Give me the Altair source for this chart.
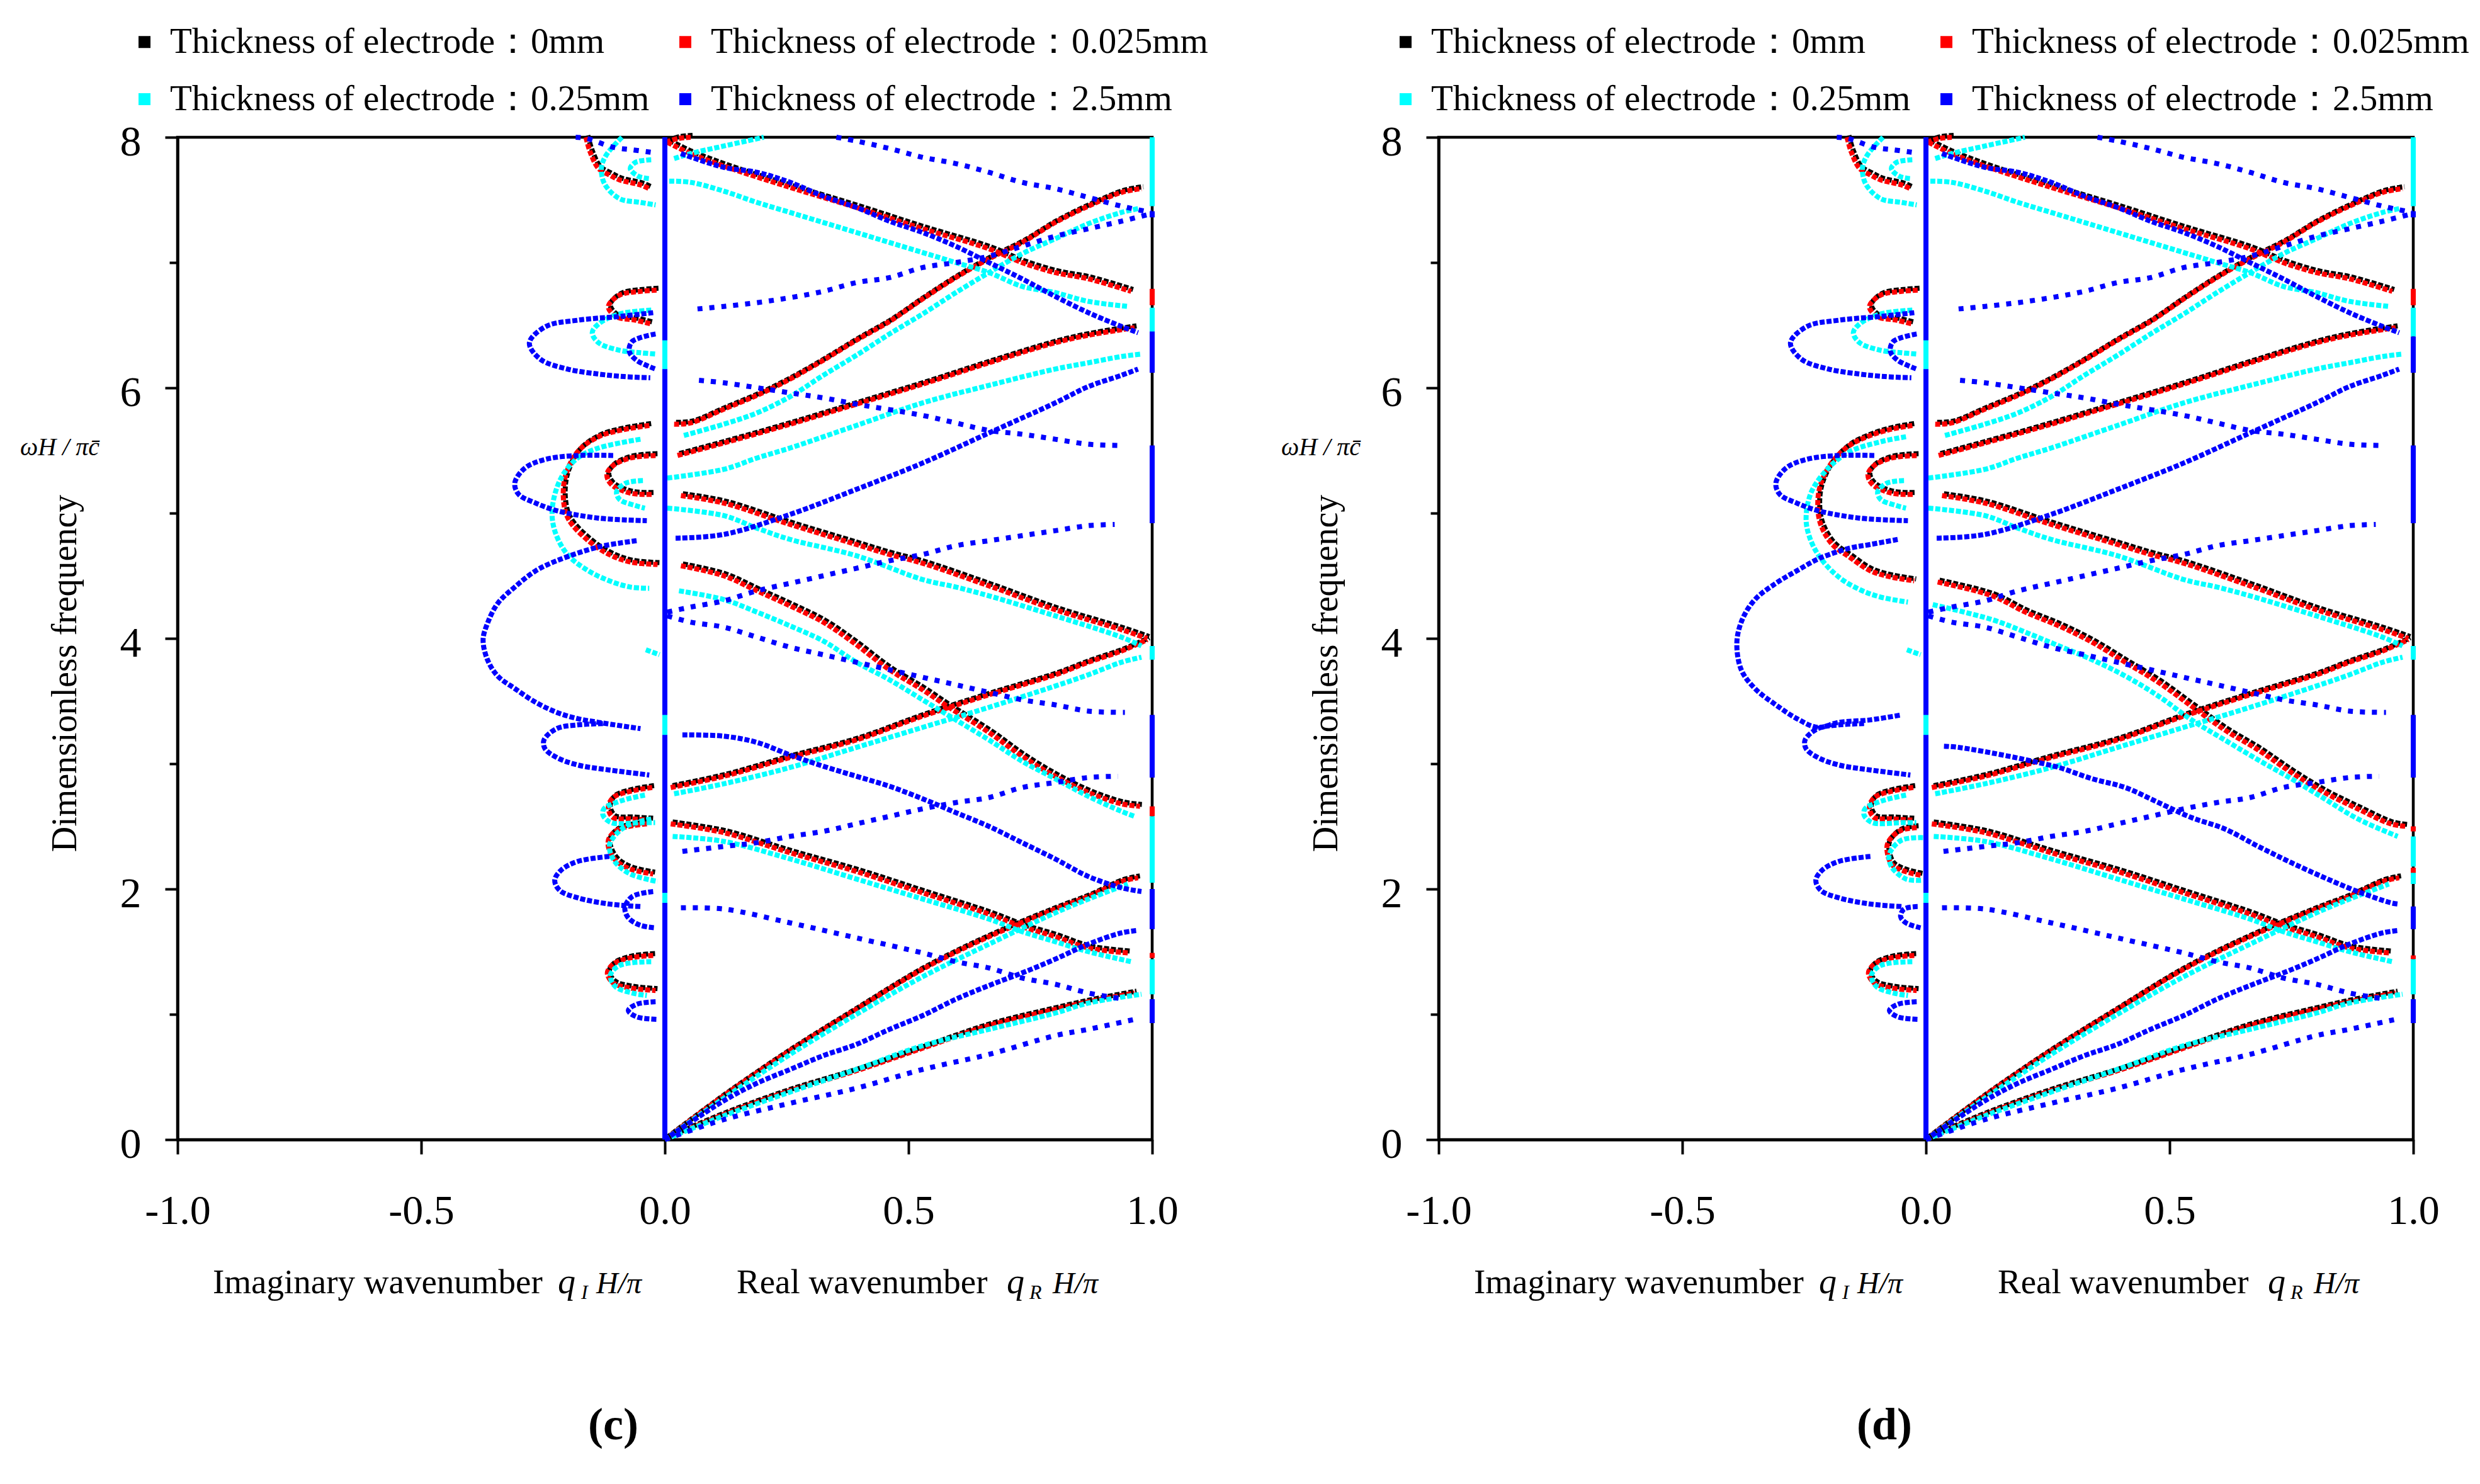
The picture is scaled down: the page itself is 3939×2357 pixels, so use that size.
import altair as alt
import pandas as pd

SERIF = "Liberation Serif"

LABELS = ["Thickness of electrode：0mm", "Thickness of electrode：0.025mm",
          "Thickness of electrode：0.25mm", "Thickness of electrode：2.5mm"]
COLORS = ["#000000", "#ff0000", "#00ffff", "#0000ff"]
KEYS = ["k", "r", "c", "b"]

X_TICKS = [-1.0, -0.5, 0.0, 0.5, 1.0]
Y_TICKS = [0, 1, 2, 3, 4, 5, 6, 7, 8]

X_TITLE_PARTS = ["Imaginary wavenumber", "q", "I", "H/π", "Real wavenumber", "q", "R", "H/π"]
Y_TITLE = "Dimensionless frequency"
Y_SYMBOL = "ωH / πc̄"
PANEL_TAGS = ["(c)", "(d)"]

# ---------------- red: 0.025 mm (0 mm coincides with it) ----------------
RED_R1_TOP = [(0.002, 7.96), (0.027, 7.99), (0.053, 8.0)]
RED_R1 = [(0.005, 7.96), (0.053, 7.87), (0.121, 7.77), (0.257, 7.60), (0.393, 7.44), (0.529, 7.27),
          (0.665, 7.11), (0.733, 7.00), (0.801, 6.92), (0.869, 6.87), (0.957, 6.77)]
RED_R2 = [(0.019, 5.71), (0.053, 5.72), (0.121, 5.83), (0.189, 5.94), (0.257, 6.07), (0.325, 6.22),
          (0.393, 6.38), (0.461, 6.53), (0.529, 6.71), (0.597, 6.88), (0.665, 7.03), (0.733, 7.16),
          (0.801, 7.32), (0.869, 7.45), (0.937, 7.56), (0.978, 7.59)]
RED_R3 = [(0.026, 5.46), (0.121, 5.56), (0.257, 5.71), (0.393, 5.87), (0.529, 6.03), (0.665, 6.20),
          (0.801, 6.36), (0.869, 6.42), (0.964, 6.48)]
RED_R4 = [(0.033, 5.14), (0.121, 5.08), (0.257, 4.91), (0.393, 4.75), (0.461, 4.67), (0.529, 4.60),
          (0.665, 4.42), (0.801, 4.23), (0.937, 4.07), (0.99, 4.00)]
RED_R5_C = [(0.033, 4.58), (0.121, 4.50), (0.189, 4.38), (0.257, 4.26), (0.325, 4.13), (0.386, 3.97),
            (0.461, 3.75), (0.529, 3.59), (0.583, 3.45), (0.665, 3.25), (0.733, 3.06), (0.801, 2.90),
            (0.869, 2.77), (0.937, 2.68), (0.975, 2.66)]
RED_R5_D = [(0.024, 4.45), (0.136, 4.34), (0.204, 4.21), (0.273, 4.10), (0.341, 3.97), (0.409, 3.81),
            (0.477, 3.65), (0.545, 3.46), (0.613, 3.27), (0.682, 3.11), (0.75, 2.93), (0.818, 2.77),
            (0.886, 2.64), (0.954, 2.52), (0.985, 2.50)]
RED_R6 = [(0.012, 2.81), (0.121, 2.90), (0.257, 3.05), (0.393, 3.19), (0.529, 3.38), (0.665, 3.55),
          (0.801, 3.71), (0.869, 3.81), (0.937, 3.90), (0.99, 3.99)]
RED_R7 = [(0.012, 2.52), (0.121, 2.45), (0.257, 2.29), (0.393, 2.14), (0.529, 1.97), (0.665, 1.80),
          (0.733, 1.70), (0.801, 1.62), (0.869, 1.53), (0.95, 1.49)]
RED_R8 = [(0.0, 0.0), (0.121, 0.35), (0.257, 0.71), (0.393, 1.04), (0.529, 1.36), (0.665, 1.62),
          (0.801, 1.84), (0.869, 1.94), (0.937, 2.06), (0.971, 2.09)]
RED_R9 = [(0.0, 0.0), (0.121, 0.20), (0.257, 0.39), (0.393, 0.55), (0.529, 0.73), (0.665, 0.91),
          (0.801, 1.04), (0.869, 1.10), (0.964, 1.17)]
RED_I_TOP = [(-0.162, 8.0), (-0.153, 7.88), (-0.136, 7.75), (-0.114, 7.70), (-0.093, 7.66),
             (-0.05, 7.62), (-0.032, 7.59)]
RED_I_65 = [(-0.017, 6.78), (-0.05, 6.77), (-0.093, 6.74), (-0.116, 6.65), (-0.101, 6.57),
            (-0.06, 6.54), (-0.028, 6.51)]
RED_I_51_C = [(-0.032, 5.70), (-0.093, 5.66), (-0.136, 5.61), (-0.179, 5.49), (-0.205, 5.28),
              (-0.207, 5.07), (-0.196, 4.94), (-0.157, 4.78), (-0.114, 4.67), (-0.071, 4.61),
              (-0.015, 4.59)]
RED_I_51_D = [(-0.028, 5.70), (-0.071, 5.67), (-0.114, 5.62), (-0.157, 5.54), (-0.192, 5.41),
              (-0.216, 5.23), (-0.222, 5.07), (-0.216, 4.91), (-0.192, 4.75), (-0.157, 4.65),
              (-0.114, 4.54), (-0.071, 4.49), (-0.024, 4.46)]
RED_I_53 = [(-0.019, 5.46), (-0.071, 5.44), (-0.106, 5.38), (-0.119, 5.31), (-0.11, 5.23),
            (-0.071, 5.16), (-0.024, 5.15)]
RED_I_27 = [(-0.026, 2.81), (-0.071, 2.78), (-0.106, 2.73), (-0.116, 2.65), (-0.106, 2.57),
            (-0.071, 2.56), (-0.028, 2.55)]
RED_I_23_C = [(-0.037, 2.52), (-0.093, 2.48), (-0.114, 2.41), (-0.116, 2.34), (-0.101, 2.23),
              (-0.071, 2.16), (-0.024, 2.12)]
RED_I_23_D = [(-0.019, 2.49), (-0.05, 2.47), (-0.071, 2.41), (-0.08, 2.34), (-0.071, 2.20),
              (-0.05, 2.15), (-0.011, 2.11)]
RED_I_13 = [(-0.024, 1.47), (-0.071, 1.45), (-0.106, 1.40), (-0.118, 1.33), (-0.106, 1.25),
            (-0.071, 1.21), (-0.019, 1.19)]
RED_EDGES_C = [(6.79, 6.66), (2.66, 2.58), (1.49, 1.45)]
RED_EDGES_D = [(6.79, 6.66), (2.50, 2.46), (2.17, 2.12), (1.47, 1.44)]

# ---------------- cyan: 0.25 mm ----------------
CYAN_C1 = [(0.019, 7.83), (0.053, 7.87), (0.121, 7.93), (0.203, 8.0)]
CYAN_C2 = [(0.009, 7.65), (0.053, 7.64), (0.121, 7.57), (0.189, 7.48), (0.257, 7.40), (0.325, 7.32),
           (0.393, 7.24), (0.461, 7.16), (0.529, 7.08), (0.597, 7.00), (0.665, 6.92), (0.733, 6.81),
           (0.801, 6.76), (0.869, 6.69), (0.95, 6.65)]
CYAN_C3 = [(0.039, 5.62), (0.121, 5.71), (0.189, 5.80), (0.257, 5.93), (0.325, 6.10), (0.393, 6.26),
           (0.461, 6.43), (0.529, 6.59), (0.597, 6.76), (0.665, 6.92), (0.733, 7.07), (0.801, 7.19),
           (0.869, 7.31), (0.937, 7.40), (0.971, 7.43)]
CYAN_C4 = [(0.005, 5.28), (0.121, 5.35), (0.189, 5.44), (0.257, 5.52), (0.393, 5.70), (0.529, 5.88),
           (0.665, 6.02), (0.801, 6.15), (0.869, 6.20), (0.937, 6.25), (0.978, 6.27)]
CYAN_C5 = [(0.005, 5.04), (0.121, 4.98), (0.189, 4.88), (0.257, 4.79), (0.393, 4.66), (0.529, 4.47),
           (0.597, 4.41), (0.665, 4.34), (0.801, 4.18), (0.937, 4.01), (0.978, 3.94)]
CYAN_C6_C = [(0.029, 4.38), (0.121, 4.31), (0.189, 4.21), (0.257, 4.10), (0.325, 3.98), (0.393, 3.81),
             (0.461, 3.67), (0.529, 3.51), (0.597, 3.35), (0.665, 3.19), (0.733, 3.02), (0.801, 2.88),
             (0.869, 2.74), (0.937, 2.62), (0.964, 2.58)]
CYAN_C6_D = [(0.014, 4.27), (0.136, 4.15), (0.204, 4.05), (0.273, 3.94), (0.341, 3.83), (0.409, 3.70),
             (0.477, 3.54), (0.545, 3.35), (0.613, 3.19), (0.682, 3.03), (0.75, 2.88), (0.818, 2.72),
             (0.886, 2.56), (0.968, 2.42)]
CYAN_C7 = [(0.019, 2.76), (0.121, 2.84), (0.257, 2.97), (0.393, 3.13), (0.529, 3.29), (0.665, 3.45),
           (0.801, 3.62), (0.869, 3.71), (0.937, 3.81), (0.978, 3.85)]
CYAN_C8 = [(0.016, 2.42), (0.121, 2.38), (0.257, 2.24), (0.393, 2.08), (0.529, 1.92), (0.665, 1.76),
           (0.733, 1.66), (0.801, 1.58), (0.869, 1.50), (0.957, 1.42)]
CYAN_C9 = [(0.0, 0.0), (0.121, 0.33), (0.257, 0.68), (0.393, 1.00), (0.529, 1.30), (0.665, 1.56),
           (0.801, 1.81), (0.869, 1.92), (0.95, 2.04)]
CYAN_C10 = [(0.0, 0.0), (0.121, 0.19), (0.257, 0.38), (0.393, 0.56), (0.529, 0.75), (0.665, 0.88),
            (0.801, 1.01), (0.869, 1.09), (0.978, 1.16)]
CYAN_I_TOP = [(-0.088, 8.0), (-0.12, 7.86), (-0.13, 7.76), (-0.124, 7.63), (-0.093, 7.51),
              (-0.05, 7.48), (-0.019, 7.46)]
CYAN_I_TOP2 = [(-0.028, 7.82), (-0.06, 7.80), (-0.071, 7.75), (-0.055, 7.69), (-0.032, 7.67)]
CYAN_I_64 = [(-0.028, 6.62), (-0.093, 6.59), (-0.136, 6.51), (-0.149, 6.44), (-0.136, 6.36),
             (-0.093, 6.30), (-0.05, 6.28), (-0.02, 6.27)]
CYAN_I_5_C = [(-0.05, 5.59), (-0.136, 5.52), (-0.179, 5.44), (-0.213, 5.28), (-0.231, 5.04),
              (-0.226, 4.86), (-0.2, 4.67), (-0.157, 4.54), (-0.114, 4.46), (-0.071, 4.41),
              (-0.032, 4.40)]
CYAN_I_5_D = [(-0.041, 5.61), (-0.093, 5.57), (-0.157, 5.49), (-0.2, 5.36), (-0.235, 5.17),
              (-0.246, 4.96), (-0.239, 4.81), (-0.218, 4.65), (-0.179, 4.49), (-0.136, 4.39),
              (-0.093, 4.33), (-0.037, 4.29)]
CYAN_I_52 = [(-0.045, 5.26), (-0.08, 5.24), (-0.099, 5.17), (-0.093, 5.11), (-0.06, 5.06),
             (-0.041, 5.04)]
CYAN_I_39 = [(-0.039, 3.91), (-0.011, 3.87)]
CYAN_I_26 = [(-0.041, 2.75), (-0.093, 2.70), (-0.125, 2.64), (-0.127, 2.59), (-0.11, 2.53),
             (-0.05, 2.53), (-0.02, 2.53)]
CYAN_I_23_C = [(-0.028, 2.56), (-0.08, 2.50), (-0.106, 2.41), (-0.114, 2.34), (-0.103, 2.22),
               (-0.071, 2.12), (-0.015, 2.06)]
CYAN_I_23_D = [(-0.006, 2.41), (-0.05, 2.39), (-0.075, 2.28), (-0.071, 2.18), (-0.041, 2.08),
               (-0.006, 2.07)]
CYAN_I_13 = [(-0.028, 1.42), (-0.093, 1.39), (-0.112, 1.31), (-0.101, 1.22), (-0.067, 1.17),
             (-0.037, 1.15)]
CYAN_EDGES_C = [(8.0, 7.45), (6.64, 6.15), (3.94, 3.83), (2.58, 2.05), (1.44, 1.16)]
CYAN_EDGES_D = [(8.0, 7.45), (6.64, 6.41), (3.94, 3.83), (2.42, 2.18), (2.13, 2.04), (1.44, 1.16)]
CYAN_AXIS_BITS = [(6.38, 6.15), (3.39, 3.23), (1.97, 1.89)]

# ---------------- blue: 2.5 mm ----------------
BLUE_B1 = [(0.352, 8.0), (0.393, 7.97), (0.461, 7.91), (0.529, 7.84), (0.597, 7.79), (0.665, 7.72),
           (0.733, 7.64), (0.801, 7.59), (0.869, 7.52), (0.937, 7.45), (0.998, 7.40)]
BLUE_B2 = [(0.033, 7.87), (0.121, 7.76), (0.189, 7.72), (0.257, 7.64), (0.325, 7.53), (0.393, 7.44),
           (0.461, 7.33), (0.529, 7.24), (0.597, 7.13), (0.665, 7.00), (0.733, 6.87), (0.801, 6.73),
           (0.869, 6.60), (0.937, 6.49), (0.971, 6.44)]
BLUE_B3 = [(0.067, 6.63), (0.121, 6.65), (0.189, 6.68), (0.257, 6.72), (0.325, 6.77), (0.393, 6.84),
           (0.461, 6.88), (0.529, 6.96), (0.597, 7.00), (0.665, 7.05), (0.733, 7.13), (0.801, 7.21),
           (0.869, 7.27), (0.937, 7.33), (0.998, 7.39)]
BLUE_B4 = [(0.07, 6.06), (0.121, 6.04), (0.257, 5.96), (0.325, 5.92), (0.393, 5.87), (0.529, 5.78),
           (0.597, 5.72), (0.665, 5.66), (0.733, 5.63), (0.801, 5.59), (0.869, 5.55), (0.937, 5.54)]
BLUE_B5 = [(0.022, 4.80), (0.121, 4.83), (0.257, 4.99), (0.393, 5.19), (0.529, 5.40), (0.665, 5.64),
           (0.801, 5.88), (0.869, 6.01), (0.937, 6.10), (0.971, 6.15)]
BLUE_B6 = [(0.005, 4.21), (0.053, 4.25), (0.121, 4.30), (0.189, 4.38), (0.257, 4.44), (0.325, 4.50),
           (0.393, 4.56), (0.461, 4.62), (0.529, 4.67), (0.597, 4.74), (0.665, 4.78), (0.733, 4.82),
           (0.801, 4.86), (0.869, 4.90), (0.923, 4.91)]
BLUE_B7 = [(0.005, 4.18), (0.053, 4.13), (0.121, 4.09), (0.189, 4.01), (0.257, 3.93), (0.325, 3.87),
           (0.393, 3.81), (0.461, 3.75), (0.529, 3.69), (0.597, 3.63), (0.665, 3.57), (0.733, 3.51),
           (0.801, 3.47), (0.869, 3.42), (0.944, 3.41)]
BLUE_B8_C = [(0.036, 3.23), (0.121, 3.22), (0.189, 3.17), (0.257, 3.07), (0.325, 2.98), (0.393, 2.90),
             (0.461, 2.82), (0.529, 2.72), (0.597, 2.61), (0.665, 2.50), (0.733, 2.37), (0.801, 2.24),
             (0.869, 2.10), (0.937, 2.01), (0.978, 1.98)]
BLUE_B8_D = [(0.037, 3.14), (0.068, 3.13), (0.17, 3.06), (0.218, 3.02), (0.273, 2.97), (0.341, 2.88),
             (0.409, 2.81), (0.477, 2.69), (0.545, 2.57), (0.613, 2.48), (0.682, 2.34), (0.75, 2.21),
             (0.818, 2.09), (0.886, 1.98), (0.954, 1.89), (0.968, 1.88)]
BLUE_B9 = [(0.036, 2.30), (0.121, 2.34), (0.189, 2.37), (0.257, 2.42), (0.325, 2.46), (0.393, 2.52),
           (0.461, 2.58), (0.529, 2.64), (0.597, 2.69), (0.665, 2.73), (0.733, 2.81), (0.801, 2.85),
           (0.869, 2.89), (0.93, 2.90)]
BLUE_B10 = [(0.033, 1.85), (0.121, 1.84), (0.257, 1.73), (0.393, 1.61), (0.529, 1.49), (0.597, 1.42),
            (0.665, 1.37), (0.733, 1.29), (0.801, 1.24), (0.869, 1.17), (0.944, 1.12)]
BLUE_B11 = [(0.0, 0.0), (0.121, 0.31), (0.189, 0.45), (0.257, 0.56), (0.325, 0.67), (0.393, 0.76),
            (0.461, 0.88), (0.529, 0.99), (0.597, 1.12), (0.665, 1.23), (0.733, 1.33), (0.801, 1.44),
            (0.869, 1.56), (0.937, 1.65), (0.971, 1.67)]
BLUE_B12 = [(0.0, 0.0), (0.121, 0.16), (0.257, 0.29), (0.393, 0.41), (0.529, 0.56), (0.665, 0.68),
            (0.801, 0.83), (0.869, 0.88), (0.964, 0.96)]
BLUE_I_TOP = [(-0.183, 8.0), (-0.16, 7.99), (-0.106, 7.92), (-0.067, 7.90), (-0.028, 7.88)]
BLUE_I_63 = [(-0.024, 6.60), (-0.093, 6.57), (-0.179, 6.54), (-0.244, 6.49), (-0.278, 6.36),
             (-0.256, 6.23), (-0.2, 6.15), (-0.136, 6.11), (-0.084, 6.09), (-0.03, 6.08)]
BLUE_I_63S = [(-0.019, 6.43), (-0.067, 6.37), (-0.073, 6.29), (-0.058, 6.22), (-0.019, 6.15)]
BLUE_I_52 = [(-0.106, 5.46), (-0.179, 5.46), (-0.244, 5.43), (-0.287, 5.36), (-0.308, 5.24),
             (-0.30, 5.15), (-0.265, 5.08), (-0.222, 5.02), (-0.136, 4.96), (-0.037, 4.94)]
BLUE_I_4_C = [(-0.058, 4.78), (-0.136, 4.73), (-0.222, 4.62), (-0.265, 4.54), (-0.308, 4.41),
              (-0.343, 4.28), (-0.364, 4.12), (-0.373, 3.99), (-0.364, 3.83), (-0.343, 3.70),
              (-0.308, 3.60), (-0.265, 3.49), (-0.222, 3.41), (-0.179, 3.36), (-0.136, 3.33),
              (-0.05, 3.28)]
BLUE_I_4_D = [(-0.058, 4.79), (-0.114, 4.75), (-0.157, 4.72), (-0.218, 4.64), (-0.265, 4.54),
              (-0.308, 4.44), (-0.351, 4.31), (-0.377, 4.15), (-0.388, 3.97), (-0.379, 3.75),
              (-0.351, 3.60), (-0.308, 3.47), (-0.265, 3.36), (-0.222, 3.29), (-0.179, 3.33),
              (-0.114, 3.35), (-0.05, 3.39)]
BLUE_I_31 = [(-0.127, 3.32), (-0.179, 3.31), (-0.222, 3.28), (-0.248, 3.19), (-0.246, 3.12),
             (-0.222, 3.05), (-0.179, 2.99), (-0.114, 2.95), (-0.032, 2.91)]
BLUE_I_21 = [(-0.114, 2.26), (-0.179, 2.22), (-0.213, 2.15), (-0.226, 2.07), (-0.216, 1.99),
             (-0.179, 1.93), (-0.114, 1.88), (-0.05, 1.86)]
BLUE_I_18_C = [(-0.024, 1.98), (-0.067, 1.94), (-0.082, 1.85), (-0.075, 1.77), (-0.05, 1.71),
               (-0.019, 1.69)]
BLUE_I_18_D = [(-0.017, 1.86), (-0.045, 1.84), (-0.052, 1.78), (-0.041, 1.73), (-0.011, 1.69)]
BLUE_I_10 = [(-0.019, 1.10), (-0.058, 1.08), (-0.075, 1.03), (-0.058, 0.98), (-0.015, 0.96)]
BLUE_EDGES_C = [(7.41, 7.36), (6.45, 6.12), (5.54, 4.92), (3.39, 2.89), (2.00, 1.68), (1.12, 0.93)]
BLUE_EDGES_D = [(7.41, 7.36), (6.41, 6.12), (5.54, 4.92), (3.39, 2.89), (1.86, 1.68), (1.12, 0.93)]
BLUE_AXIS = [(0.0, 0.0), (0.0, 8.0)]


def red_branches(p):
    c = p == "c"
    return [("r1t", "dense", RED_R1_TOP), ("r1", "dense", RED_R1), ("r2", "dense", RED_R2),
            ("r3", "dense", RED_R3), ("r4", "dense", RED_R4), ("r5", "dense", RED_R5_C if c else RED_R5_D),
            ("r6", "dense", RED_R6), ("r7", "dense", RED_R7), ("r8", "dense", RED_R8), ("r9", "dense", RED_R9),
            ("it", "dense", RED_I_TOP), ("i65", "dense", RED_I_65),
            ("i51", "dense", RED_I_51_C if c else RED_I_51_D), ("i53", "dense", RED_I_53),
            ("i27", "dense", RED_I_27), ("i23", "dense", RED_I_23_C if c else RED_I_23_D),
            ("i13", "dense", RED_I_13)]


def cyan_branches(p):
    c = p == "c"
    return [("c1", "dense", CYAN_C1), ("c2", "dense", CYAN_C2), ("c3", "dense", CYAN_C3),
            ("c4", "dense", CYAN_C4), ("c5", "dense", CYAN_C5), ("c6", "dense", CYAN_C6_C if c else CYAN_C6_D),
            ("c7", "dense", CYAN_C7), ("c8", "dense", CYAN_C8), ("c9", "dense", CYAN_C9),
            ("c10", "dense", CYAN_C10), ("it", "dense", CYAN_I_TOP), ("it2", "dense", CYAN_I_TOP2),
            ("i64", "dense", CYAN_I_64), ("i5", "dense", CYAN_I_5_C if c else CYAN_I_5_D),
            ("i52", "dense", CYAN_I_52), ("i39", "dense", CYAN_I_39), ("i26", "dense", CYAN_I_26),
            ("i23", "dense", CYAN_I_23_C if c else CYAN_I_23_D), ("i13", "dense", CYAN_I_13)]


def blue_branches(p):
    c = p == "c"
    return [("b1", "sparse", BLUE_B1), ("b2", "dense", BLUE_B2), ("b3", "sparse", BLUE_B3),
            ("b4", "sparse", BLUE_B4), ("b5", "dense", BLUE_B5), ("b6", "sparse", BLUE_B6),
            ("b7", "sparse", BLUE_B7), ("b8", "dense", BLUE_B8_C if c else BLUE_B8_D),
            ("b9", "sparse", BLUE_B9), ("b10", "sparse", BLUE_B10), ("b11", "dense", BLUE_B11),
            ("b12", "sparse", BLUE_B12), ("it", "sparse", BLUE_I_TOP), ("i63", "dense", BLUE_I_63),
            ("i63s", "dense", BLUE_I_63S), ("i52", "dense", BLUE_I_52),
            ("i4", "dense", BLUE_I_4_C if c else BLUE_I_4_D), ("i31", "dense", BLUE_I_31),
            ("i21", "dense", BLUE_I_21), ("i18", "dense", BLUE_I_18_C if c else BLUE_I_18_D),
            ("i10", "dense", BLUE_I_10), ("axis", "axis", BLUE_AXIS)]


rows = []


def add(panel, key, name, style, pts):
    for i, (x, y) in enumerate(pts):
        rows.append({"panel": panel, "key": key, "series": LABELS[KEYS.index(key)],
                     "branch": f"{panel}-{key}-{name}", "style": style, "i": i, "x": x, "y": y})


for p in ["c", "d"]:
    for name, style, pts in red_branches(p):
        add(p, "k", name, style, pts)
        add(p, "r", name, style, pts)
    for name, style, pts in cyan_branches(p):
        add(p, "c", name, style, pts)
    for name, style, pts in blue_branches(p):
        add(p, "b", name, style, pts)
    for key, edges in [("r", RED_EDGES_C if p == "c" else RED_EDGES_D),
                       ("c", CYAN_EDGES_C if p == "c" else CYAN_EDGES_D),
                       ("b", BLUE_EDGES_C if p == "c" else BLUE_EDGES_D)]:
        for j, (a, b) in enumerate(edges):
            add(p, key, f"edge{j}", "edge", [(1.0, a), (1.0, b)])
    for j, (a, b) in enumerate(CYAN_AXIS_BITS):
        add(p, "c", f"axbit{j}", "axisbit", [(0.0, a), (0.0, b)])

DF = pd.DataFrame(rows)

STYLES = ["dense", "sparse", "edge", "axis", "axisbit"]
DASHES = [[8, 3], [8, 11], [1, 0], [1, 0], [1, 0]]
WIDTHS = [8, 8, 9, 12, 12]

W, H = 1548, 1592

XAXIS = alt.Axis(values=X_TICKS,
                 labelExpr="datum.value < 0 ? '-' + format(-datum.value, '.1f') : format(datum.value, '.1f')",
                 labelFont=SERIF, labelFontSize=66, labelColor="black", labelPadding=58,
                 labelFlush=False, labelOverlap=False, tickSize=23, tickWidth=4, tickColor="black",
                 domainColor="black", domainWidth=4.5, grid=False, title=None)
YAXIS = alt.Axis(values=Y_TICKS, labelExpr="datum.value % 2 == 0 ? datum.label : ''",
                 labelFont=SERIF, labelFontSize=68, labelColor="black", labelPadding=38, labelOffset=8,
                 labelOverlap=False,
                 tickSize={"condition": {"test": "datum.value % 2 == 0", "value": 20}, "value": 13},
                 tickWidth=4, tickColor="black", domainColor="black", domainWidth=4.5, grid=False,
                 title=Y_TITLE, titleFont=SERIF, titleFontSize=56, titleFontWeight="normal",
                 titleColor="black", titleX=-162, titleY=851, titleAngle=270,
                 titleBaseline="alphabetic", titleAlign="center")

LEGEND = alt.Legend(title=None, orient="none", legendX=-81, legendY=-180, columns=2,
                    direction="horizontal",
                    symbolType="square", symbolSize=361, symbolStrokeWidth=0, symbolOpacity=1,
                    labelFont=SERIF, labelFontSize=57, labelColor="black", labelOffset=12,
                    labelLimit=2000, columnPadding=28, rowPadding=33, padding=0)


def text_layer(txt, x, y, size, style="normal", weight="normal", align="left", baseline="alphabetic"):
    return alt.Chart(pd.DataFrame({"t": [txt]})).mark_text(
        font=SERIF, fontSize=size, fontStyle=style, fontWeight=weight, align=align,
        baseline=baseline, color="black").encode(x=alt.value(x), y=alt.value(y), text="t:N")


def panel_chart(p, tag, tag_x, guide_right):
    data = DF[DF.panel == p]
    base = alt.Chart(data).encode(
        x=alt.X("x:Q", scale=alt.Scale(domain=[-1, 1], nice=False, zero=False), axis=XAXIS),
        y=alt.Y("y:Q", scale=alt.Scale(domain=[0, 8], nice=False, zero=False), axis=YAXIS),
        detail="branch:N",
        order="i:Q",
        stroke=alt.Stroke("series:N", scale=alt.Scale(domain=LABELS, range=COLORS), legend=None),
        strokeDash=alt.StrokeDash("style:N", scale=alt.Scale(domain=STYLES, range=DASHES), legend=None),
        strokeWidth=alt.StrokeWidth("style:N", scale=alt.Scale(domain=STYLES, range=WIDTHS), legend=None),
    )
    black = base.transform_filter("datum.key == 'k'").mark_line(
        interpolate="catmull-rom", xOffset=3, yOffset=-3)
    red = base.transform_filter("datum.key == 'r'").mark_line(interpolate="catmull-rom")
    cyan = base.transform_filter("datum.key == 'c' && datum.style != 'axisbit'").mark_line(
        interpolate="catmull-rom")
    blue = base.transform_filter("datum.key == 'b'").mark_line(interpolate="catmull-rom")
    cyan_bits = base.transform_filter("datum.style == 'axisbit'").mark_line()

    legend_layer = alt.Chart(pd.DataFrame({"series": LABELS})).mark_square(
        opacity=0, size=10).encode(
        fill=alt.Fill("series:N", scale=alt.Scale(domain=LABELS, range=COLORS), legend=LEGEND))

    guide = alt.Chart(pd.DataFrame({"g": [0]})).mark_rule(opacity=0).encode(
        x=alt.value(-271), x2=alt.value(guide_right), y=alt.value(-207))

    texts = [
        text_layer(X_TITLE_PARTS[0], 56, 1836, 55),
        text_layer(X_TITLE_PARTS[1], 604, 1836, 56, style="italic"),
        text_layer(X_TITLE_PARTS[2], 641, 1845, 32, style="italic"),
        text_layer(X_TITLE_PARTS[3], 665, 1836, 48, style="italic"),
        text_layer(X_TITLE_PARTS[4], 888, 1836, 55),
        text_layer(X_TITLE_PARTS[5], 1317, 1836, 56, style="italic"),
        text_layer(X_TITLE_PARTS[6], 1353, 1845, 32, style="italic"),
        text_layer(X_TITLE_PARTS[7], 1390, 1836, 48, style="italic"),
        text_layer(Y_SYMBOL, -250, 505, 40, style="italic"),
        text_layer(tag, tag_x, 2068, 72, weight="bold", align="center"),
    ]
    return alt.layer(guide, black, red, cyan, blue, cyan_bits, legend_layer, *texts).properties(
        width=W, height=H)


chart = alt.hconcat(panel_chart("c", PANEL_TAGS[0], 692, 1726),
                    panel_chart("d", PANEL_TAGS[1], 708, 1548),
                    spacing=0).resolve_scale(fill="independent").properties(
    padding=0, background="white").configure_view(stroke="black", strokeWidth=4.5)

chart.save("out.html", embed_options={"renderer": "svg", "actions": False})
